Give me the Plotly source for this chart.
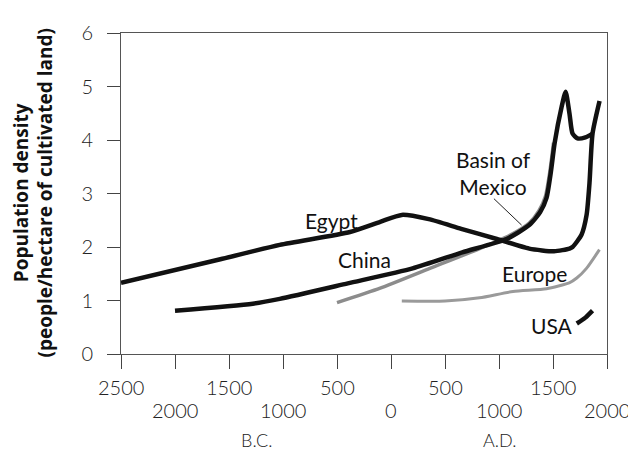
import plotly.graph_objects as go

# ---- data (year: negative = B.C.) ----
egypt_years = [-2500, -1580, -1030, -380, -100, 100, 350, 650, 980, 1280, 1510, 1653, 1681, 1764, 1811, 1838, 1866, 1931]
egypt_vals  = [1.33, 1.77, 2.04, 2.28, 2.47, 2.6, 2.52, 2.34, 2.15, 1.97, 1.92, 1.97, 2.0, 2.23, 2.6, 3.2, 4.12, 4.73]

china_years = [-2000, -1280, -1030, -400, 200, 660, 1070, 1280, 1380, 1440, 1480, 1515, 1580, 1617, 1653, 1681, 1727, 1800, 1866]
china_vals  = [0.81, 0.94, 1.03, 1.32, 1.6, 1.9, 2.15, 2.41, 2.65, 2.92, 3.4, 3.94, 4.62, 4.9, 4.49, 4.12, 4.03, 4.05, 4.12]

mexico_years = [-500, -100, 360, 820, 1100, 1280, 1370, 1430, 1470, 1505]
mexico_vals  = [0.96, 1.23, 1.6, 1.97, 2.22, 2.45, 2.68, 2.95, 3.4, 3.95]

europe_years = [100, 500, 820, 1130, 1440, 1650, 1720, 1810, 1930]
europe_vals  = [0.99, 0.99, 1.05, 1.17, 1.22, 1.33, 1.42, 1.6, 1.95]

usa_years = [1720, 1800, 1866]
usa_vals  = [0.57, 0.68, 0.81]

tick_years  = [-2500, -2000, -1500, -1000, -500, 0, 500, 1000, 1500, 2000]
tick_labels = ["2500", "2000", "1500", "1000", "500", "0", "500", "1000", "1500", "2000"]
y_ticks = [0, 1, 2, 3, 4, 5, 6]

era_labels = ["B.C.", "A.D."]
era_years = [-1250, 1000]

series_labels = ["Egypt", "China", "Basin of<br>Mexico", "Europe", "USA"]
label_years = [-548, -243, 950, 1330, 1487]
label_vals = [2.5, 1.77, 3.39, 1.51, 0.53]

pointer_from = (939, 2.93)
pointer_to = (1209, 2.41)

FONT = "Lato"
fig = go.Figure()

def add(xs, ys, color, width):
    fig.add_trace(go.Scatter(x=xs, y=ys, mode="lines",
                             line=dict(color=color, width=width, shape="spline", smoothing=0.6),
                             hoverinfo="skip", showlegend=False))

add(europe_years, europe_vals, "#9a9a9a", 3)
add(mexico_years, mexico_vals, "#8c8c8c", 3.5)
add(egypt_years, egypt_vals, "#111111", 4.5)
add(china_years, china_vals, "#111111", 4.5)
add(usa_years, usa_vals, "#111111", 4.5)

annotations = []
# staggered x tick labels
for i, (yr, lab) in enumerate(zip(tick_years, tick_labels)):
    annotations.append(dict(x=yr, y=0, xref="x", yref="paper", text=lab, showarrow=False,
                            yshift=-33 if i % 2 == 0 else -56, yanchor="middle", xanchor="center",
                            font=dict(family=FONT, size=20, color="#222", weight=300)))
for yr, lab in zip(era_years, era_labels):
    annotations.append(dict(x=yr, y=0, xref="x", yref="paper", text=lab, showarrow=False,
                            yshift=-86, yanchor="middle", xanchor="center",
                            font=dict(family=FONT, size=18, color="#222", weight=300)))
# series labels
for yr, v, lab in zip(label_years, label_vals, series_labels):
    annotations.append(dict(x=yr, y=v, xref="x", yref="y", text=lab, showarrow=False,
                            xanchor="center", yanchor="middle",
                            font=dict(family=FONT, size=21, color="#111")))
# pointer for Basin of Mexico
annotations.append(dict(x=pointer_to[0], y=pointer_to[1], ax=pointer_from[0], ay=pointer_from[1],
                        xref="x", yref="y", axref="x", ayref="y", text="", showarrow=True,
                        arrowhead=0, arrowwidth=1, arrowcolor="#222"))
# y-axis title
annotations.append(dict(x=0, y=0.5, xref="paper", yref="paper", xshift=-88,
                        text="<b>Population density<br>(people/hectare of cultivated land)</b>",
                        textangle=-90, showarrow=False, xanchor="center", yanchor="middle",
                        font=dict(family="Open Sans", size=19, color="#111")))

# page body has an 8px margin, so the figure is sized to the visible area
fig.update_layout(
    width=628, height=444,
    margin=dict(l=113, r=29, t=20, b=98),
    paper_bgcolor="white", plot_bgcolor="white",
    annotations=annotations,
    xaxis=dict(range=[-2500, 2000], tickvals=tick_years, ticktext=[""] * len(tick_years),
               ticks="outside", ticklen=14, tickcolor="#444", tickwidth=1,
               showline=True, linecolor="#555", linewidth=1, mirror=True,
               showgrid=False, zeroline=False),
    yaxis=dict(range=[0, 6], tickvals=y_ticks, ticks="outside", ticklen=13,
               tickcolor="#444", tickwidth=1, showline=True, linecolor="#555", linewidth=1,
               mirror=True, showgrid=False, zeroline=False, ticklabelstandoff=10,
               tickfont=dict(family=FONT, size=20, color="#222", weight=300)),
)

fig.write_html("out.html")
